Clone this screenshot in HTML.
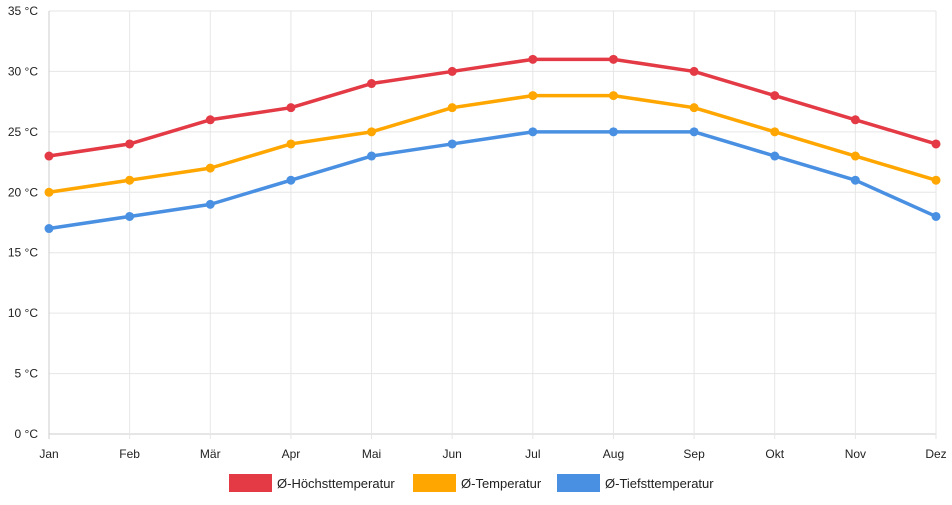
<!DOCTYPE html>
<html><head><meta charset="utf-8"><style>
body{margin:0;background:#fff;font-family:"Liberation Sans",sans-serif}
svg text{font-family:"Liberation Sans",sans-serif;font-size:12px;fill:#222}
</style></head><body>
<svg width="952" height="500" id="c"></svg>
<script>
const months=["Jan","Feb","Mär","Apr","Mai","Jun","Jul","Aug","Sep","Okt","Nov","Dez"];
const highTemps=[23,24,26,27,29,30,31,31,30,28,26,24];
const avgTemps=[20,21,22,24,25,27,28,28,27,25,23,21];
const lowTemps=[17,18,19,21,23,24,25,25,25,23,21,18];
const yTicks=[0,5,10,15,20,25,30,35];
const seriesNames=["Ø-Höchsttemperatur","Ø-Temperatur","Ø-Tiefsttemperatur"];
const svg=document.getElementById('c');const NS="http://www.w3.org/2000/svg";
const x0=49,x1=936,yTop=11,yBot=434,yMax=35;
const xs=i=>x0+i*(x1-x0)/(months.length-1);
const ys=v=>yBot-v/yMax*(yBot-yTop);
function mk(t,a,p){const e=document.createElementNS(NS,t);for(const k in a)e.setAttribute(k,a[k]);(p||svg).appendChild(e);return e;}
yTicks.forEach(v=>{const l=mk('line',{x1:x0,x2:x1,y1:ys(v),y2:ys(v),stroke:v===0?'#ccc':'#e6e6e6'});

const t=mk('text',{x:38,y:ys(v)+4,'text-anchor':'end'});t.textContent=v+' °C';
});
months.forEach((m,i)=>{const l=mk('line',{x1:xs(i),x2:xs(i),y1:yTop,y2:yBot+5,stroke:i===0?'#ccc':'#e6e6e6'});

const t=mk('text',{x:xs(i),y:458,'text-anchor':'middle'});t.textContent=m;
});
const series=[[highTemps,'#e33a45'],[avgTemps,'#ffa600'],[lowTemps,'#4a90e2']];
series.forEach(([d,c],si)=>{const g=mk('g',{});

const p=mk('polyline',{points:d.map((v,i)=>xs(i)+','+ys(v)).join(' '),fill:'none',stroke:c,'stroke-width':3.5,'stroke-linejoin':'round'},g);

d.forEach((v,i)=>{const pt=mk('circle',{cx:xs(i),cy:ys(v),r:4.5,fill:c},g);
});});
const lx=[229,413,557];
seriesNames.forEach((n,i)=>{const g=mk('g',{});

mk('rect',{x:lx[i],y:474,width:43,height:18,fill:series[i][1]},g);
const t=mk('text',{x:lx[i]+48,y:488},g);t.textContent=n;t.style.fontSize='13px';});
</script>
</body></html>
